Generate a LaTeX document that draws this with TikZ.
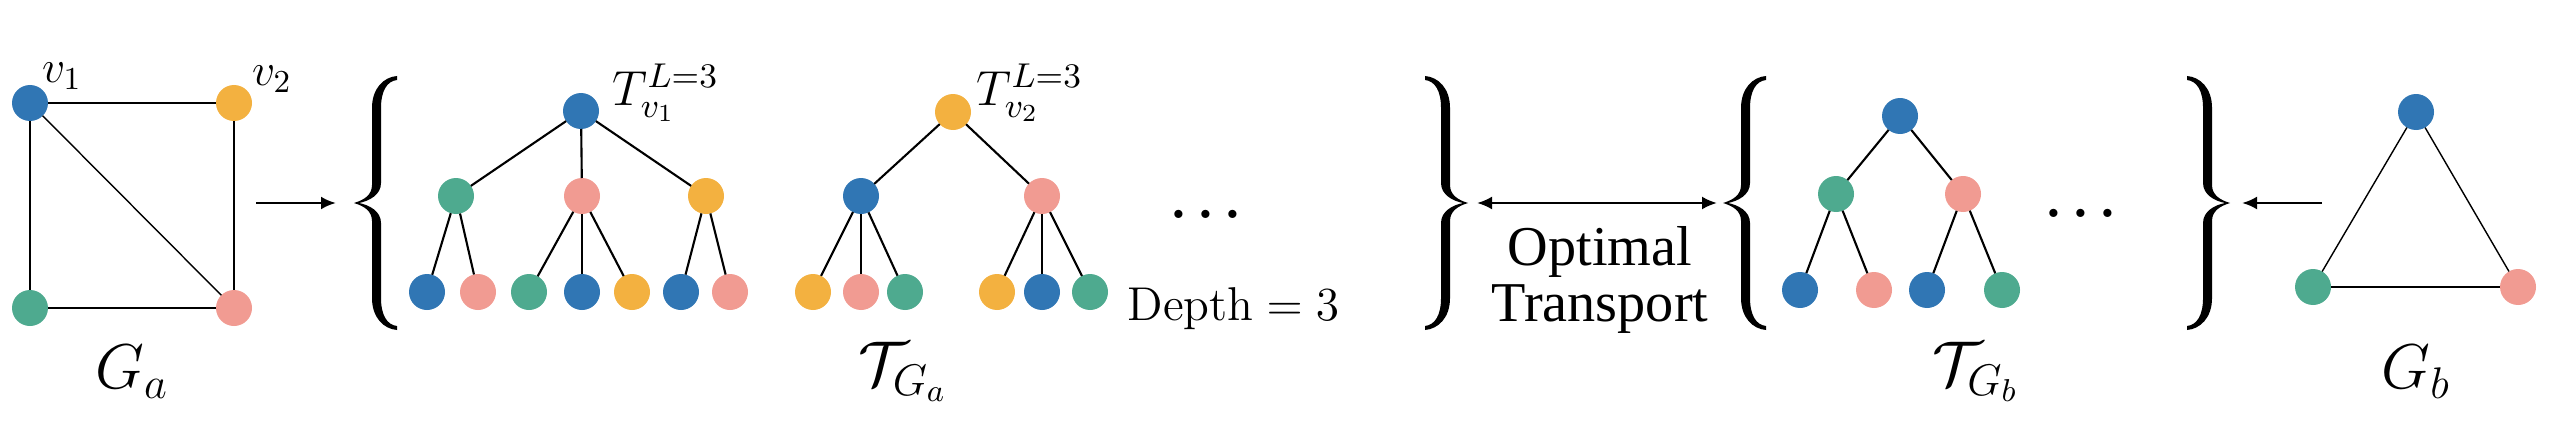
\RequirePackage{fix-cm}
\documentclass[tikz,border=0pt]{standalone}
\usepackage{fontspec}
\usepackage{amssymb, amsmath, tikz}
\usepackage{tkz-graph}
\usetikzlibrary{arrows.meta}
\newfontfamily\otfont{Liberation Serif}
\definecolor{vblue}{RGB}{48,118,180}
\definecolor{vorange}{RGB}{243,177,64}
\definecolor{vgreen}{RGB}{78,170,143}
\definecolor{vpink}{RGB}{241,155,146}
\tikzset{lbrace/.pic = {
  \fill (0,0) .. controls (0.10,0.03) and (0.18,0.08) .. (0.18,0.18)
    -- (0.18,0.95) .. controls (0.18,1.15) and (0.30,1.26) .. (0.43,1.27)
    -- (0.43,1.23) .. controls (0.33,1.22) and (0.27,1.12) .. (0.27,0.95)
    -- (0.27,0.20) .. controls (0.27,0.08) and (0.15,0.02) .. (0.05,0)
    .. controls (0.15,-0.02) and (0.27,-0.08) .. (0.27,-0.20)
    -- (0.27,-0.95) .. controls (0.27,-1.12) and (0.33,-1.22) .. (0.43,-1.23)
    -- (0.43,-1.27) .. controls (0.30,-1.26) and (0.18,-1.15) .. (0.18,-0.95)
    -- (0.18,-0.18) .. controls (0.18,-0.08) and (0.10,-0.03) .. (0,0) -- cycle;
}}

\begin{document}
\begin{tikzpicture}[scale = 1]
\tikzstyle{VertexStyle}=[shape = circle,
							minimum size = 3.6mm,
							inner sep = 0pt,
                         					draw = none]
\tikzstyle{EdgeStyle}=[line width = 0.4pt, black]
\tikzstyle{lab}=[inner sep = 0pt, font = \fontsize{13}{13}\selectfont]
\tikzstyle{tlab}=[inner sep = 0pt, anchor = west, font = \fontsize{14}{14}\selectfont]
\tikzstyle{biglab}=[inner sep = 0pt, font = \fontsize{18}{18}\selectfont]
\tikzstyle{dotlab}=[inner sep = 0pt, anchor = base, font = \fontsize{15}{15}\selectfont\boldmath]
\tikzstyle{arr}=[line width = 0.8pt, -{Latex[length = 1.5mm, width = 1.3mm]}]
\useasboundingbox (0,0) rectangle (25.5,4.24);
% G_a
\Vertex[x = 0.30, y = 3.21, NoLabel, style = {fill = vblue}]{a1}
\Vertex[x = 2.34, y = 3.21, NoLabel, style = {fill = vorange}]{a2}
\Vertex[x = 0.30, y = 1.16, NoLabel, style = {fill = vgreen}]{a3}
\Vertex[x = 2.34, y = 1.16, NoLabel, style = {fill = vpink}]{a4}
\Edge(a1)(a2)
\Edge(a1)(a3)
\Edge(a1)(a4)
\Edge(a2)(a4)
\Edge(a3)(a4)
\node[lab] (v1lab) at (0.62,3.48) {$v_1$};
\node[lab] (v2lab) at (2.72,3.45) {$v_2$};
\node[biglab] (galab) at (1.32,0.52) {$G_a$};
\coordinate (gaout) at (2.56,2.21);
% braces
\coordinate (lb1) at (3.54,2.21);
\coordinate (rb1) at (14.68,2.21);
\coordinate (lb2) at (17.23,2.21);
\coordinate (rb2) at (22.30,2.21);
\pic at (lb1) {lbrace};
\pic[xscale = -1] at (rb1) {lbrace};
\pic at (lb2) {lbrace};
\pic[xscale = -1] at (rb2) {lbrace};
\draw[arr, shorten >= 1.8mm] (gaout) -- (lb1);
% tree of v_1
\tikzstyle{EdgeStyle}=[line width = 0.6pt, black]
\Vertex[x = 5.81, y = 3.13, NoLabel, style = {fill = vblue}]{t1}
\Vertex[x = 4.56, y = 2.28, NoLabel, style = {fill = vgreen}]{t1a}
\Vertex[x = 5.82, y = 2.28, NoLabel, style = {fill = vpink}]{t1b}
\Vertex[x = 7.06, y = 2.28, NoLabel, style = {fill = vorange}]{t1c}
\Vertex[x = 4.27, y = 1.32, NoLabel, style = {fill = vblue}]{t1a1}
\Vertex[x = 4.78, y = 1.32, NoLabel, style = {fill = vpink}]{t1a2}
\Vertex[x = 5.29, y = 1.32, NoLabel, style = {fill = vgreen}]{t1b1}
\Vertex[x = 5.82, y = 1.32, NoLabel, style = {fill = vblue}]{t1b2}
\Vertex[x = 6.32, y = 1.32, NoLabel, style = {fill = vorange}]{t1b3}
\Vertex[x = 6.81, y = 1.32, NoLabel, style = {fill = vblue}]{t1c1}
\Vertex[x = 7.30, y = 1.32, NoLabel, style = {fill = vpink}]{t1c2}
\Edge(t1)(t1a)
\Edge(t1)(t1b)
\Edge(t1)(t1c)
\Edge(t1a)(t1a1)
\Edge(t1a)(t1a2)
\Edge(t1b)(t1b1)
\Edge(t1b)(t1b2)
\Edge(t1b)(t1b3)
\Edge(t1c)(t1c1)
\Edge(t1c)(t1c2)
\node[tlab] (t1lab) at (6.12,3.31) {$T_{v_1}^{L=3}$};
% tree of v_2
\Vertex[x = 9.53, y = 3.12, NoLabel, style = {fill = vorange}]{t2}
\Vertex[x = 8.61, y = 2.28, NoLabel, style = {fill = vblue}]{t2a}
\Vertex[x = 10.42, y = 2.28, NoLabel, style = {fill = vpink}]{t2b}
\Vertex[x = 8.13, y = 1.32, NoLabel, style = {fill = vorange}]{t2a1}
\Vertex[x = 8.61, y = 1.32, NoLabel, style = {fill = vpink}]{t2a2}
\Vertex[x = 9.05, y = 1.32, NoLabel, style = {fill = vgreen}]{t2a3}
\Vertex[x = 9.97, y = 1.32, NoLabel, style = {fill = vorange}]{t2b1}
\Vertex[x = 10.42, y = 1.32, NoLabel, style = {fill = vblue}]{t2b2}
\Vertex[x = 10.90, y = 1.32, NoLabel, style = {fill = vgreen}]{t2b3}
\Edge(t2)(t2a)
\Edge(t2)(t2b)
\Edge(t2a)(t2a1)
\Edge(t2a)(t2a2)
\Edge(t2a)(t2a3)
\Edge(t2b)(t2b1)
\Edge(t2b)(t2b2)
\Edge(t2b)(t2b3)
\node[tlab] (t2lab) at (9.76,3.31) {$T_{v_2}^{L=3}$};
\node[dotlab] (dotsa) at (12.06,2.06) {$\ldots$};
\node[inner sep = 0pt, font = \fontsize{13.5}{13.5}\selectfont, anchor = base west] (depth) at (11.27,1.04) {$\text{Depth} = 3$};
\node[biglab] (tgalab) at (9.03,0.52) {$\mathcal{T}_{G_a}$};
% optimal transport
\draw[line width = 0.7pt, {Latex[length = 1.5mm, width = 1.3mm]}-{Latex[length = 1.5mm, width = 1.3mm]}, shorten <= 0.9mm, shorten >= 0.6mm] (rb1) -- (lb2);
\node[align = center, inner sep = 0pt, font = \otfont\fontsize{16}{16.2}\selectfont] (ot) at (16.0,1.44) {Optimal\\Transport};
% tree of G_b
\Vertex[x = 19.00, y = 3.08, NoLabel, style = {fill = vblue}]{t3}
\Vertex[x = 18.36, y = 2.30, NoLabel, style = {fill = vgreen}]{t3a}
\Vertex[x = 19.63, y = 2.30, NoLabel, style = {fill = vpink}]{t3b}
\Vertex[x = 18.00, y = 1.34, NoLabel, style = {fill = vblue}]{t3a1}
\Vertex[x = 18.74, y = 1.34, NoLabel, style = {fill = vpink}]{t3a2}
\Vertex[x = 19.27, y = 1.34, NoLabel, style = {fill = vblue}]{t3b1}
\Vertex[x = 20.02, y = 1.34, NoLabel, style = {fill = vgreen}]{t3b2}
\Edge(t3)(t3a)
\Edge(t3)(t3b)
\Edge(t3a)(t3a1)
\Edge(t3a)(t3a2)
\Edge(t3b)(t3b1)
\Edge(t3b)(t3b2)
\node[dotlab] (dotsb) at (20.81,2.07) {$\ldots$};
\node[biglab] (tgblab) at (19.76,0.52) {$\mathcal{T}_{G_b}$};
% G_b
\tikzstyle{EdgeStyle}=[line width = 0.4pt, black]
\Vertex[x = 24.16, y = 3.12, NoLabel, style = {fill = vblue}]{b1}
\Vertex[x = 23.13, y = 1.37, NoLabel, style = {fill = vgreen}]{b2}
\Vertex[x = 25.18, y = 1.37, NoLabel, style = {fill = vpink}]{b3}
\Edge(b1)(b2)
\Edge(b1)(b3)
\Edge(b2)(b3)
\node[biglab] (gblab) at (24.16,0.52) {$G_b$};
\coordinate (gbout) at (23.22,2.21);
\draw[arr, line width = 0.7pt, shorten >= 1.2mm] (gbout) -- (rb2);
\end{tikzpicture}
\end{document}
